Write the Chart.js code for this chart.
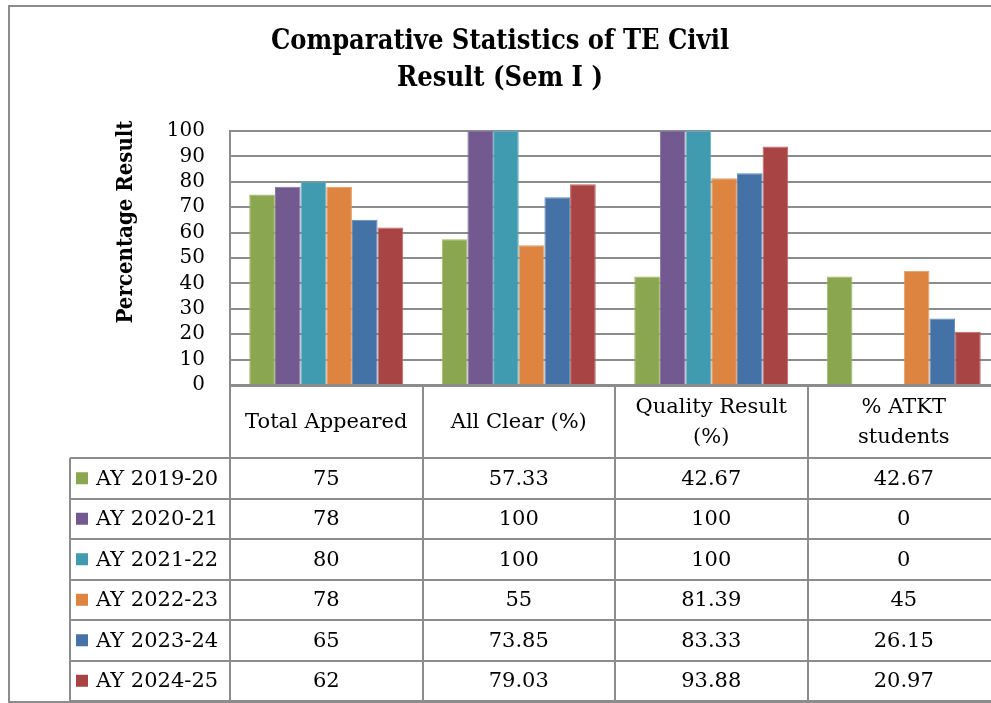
<!DOCTYPE html>
<html>
<head>
<meta charset="utf-8">
<script src="https://cdn.jsdelivr.net/npm/chart.js"></script>
<style>
  html, body { margin: 0; padding: 0; background: #fff; overflow: hidden; }
  #wrap { position: relative; width: 991px; height: 703px; overflow: hidden; }
  #frame { position: absolute; left: 8px; top: 5px; width: 1100px; height: 694px;
           border: 2px solid #8c8c8c; pointer-events: none; }
</style>
</head>
<body>
<div id="wrap">
  <canvas id="chart" width="1000" height="703" style="width:1000px;height:703px"></canvas>
  <div id="frame"></div>
</div>
<script>
// categories (table columns / x axis)
const categories = ['Total Appeared', 'All Clear (%)', ['Quality Result', '(%)'], ['% ATKT', 'students']];

// series = academic years
const years = ['AY 2019-20', 'AY 2020-21', 'AY 2021-22', 'AY 2022-23', 'AY 2023-24', 'AY 2024-25'];
const ay201920 = [75, 57.33, 42.67, 42.67];
const ay202021 = [78, 100, 100, 0];
const ay202122 = [80, 100, 100, 0];
const ay202223 = [78, 55, 81.39, 45];
const ay202324 = [65, 73.85, 83.33, 26.15];
const ay202425 = [62, 79.03, 93.88, 20.97];

const yTicks = [0, 10, 20, 30, 40, 50, 60, 70, 80, 90, 100];

const colors = ['#8aa64e', '#725a90', '#419bb0', '#dd8441', '#4472a6', '#a84544'];
const edges = ['#9cb865', '#8570a0', '#5eacbf', '#e69963', '#6088b6', '#ba6463'];

const SERIF = '"DejaVu Serif", serif';
const BOLD = '"DejaVu Serif Condensed", "DejaVu Serif", serif';
const GRID = '#8c8c8c';

const seriesValues = [ay201920, ay202021, ay202122, ay202223, ay202324, ay202425];

// draws the data table under the plot and the y axis title
const tablePlugin = {
  id: 'dataTable',
  afterDraw(chart) {
    const ctx = chart.ctx;
    const x = chart.scales.x;
    const area = chart.chartArea;
    const colW = (x.right - x.left) / categories.length;
    const headBottom = 458;
    const rowH = 40.5;
    const tableLeft = 70;
    const tableBottom = headBottom + rowH * years.length;

    ctx.save();
    ctx.strokeStyle = GRID;
    ctx.lineWidth = 2;

    // vertical lines between columns
    for (let i = 0; i <= categories.length; i++) {
      const px = Math.round(x.left + colW * i);
      ctx.beginPath();
      ctx.moveTo(px, area.bottom);
      ctx.lineTo(px, tableBottom);
      ctx.stroke();
    }
    // left legend column
    ctx.beginPath();
    ctx.moveTo(tableLeft, headBottom);
    ctx.lineTo(tableLeft, tableBottom);
    ctx.stroke();
    // row lines
    for (let r = 0; r <= years.length; r++) {
      const py = Math.round(headBottom + rowH * r);
      ctx.beginPath();
      ctx.moveTo(tableLeft, py);
      ctx.lineTo(x.right + 20, py);
      ctx.stroke();
    }

    ctx.font = '21px ' + SERIF;
    ctx.textBaseline = 'middle';
    ctx.fillStyle = '#000';
    chart.data.datasets.forEach((ds, r) => {
      const cy = headBottom + rowH * r + rowH / 2;
      ctx.fillStyle = ds.backgroundColor;
      ctx.fillRect(76, cy - 6, 12, 12);
      ctx.fillStyle = '#000';
      ctx.textAlign = 'left';
      ctx.fillText(ds.label, 96, cy + 1);
      ctx.textAlign = 'center';
      ds.data.forEach((v, c) => {
        ctx.fillText(String(v), x.getPixelForValue(c), cy + 1);
      });
    });

    // y axis title
    ctx.translate(126, 222);
    ctx.rotate(-Math.PI / 2);
    ctx.font = 'bold 22px ' + BOLD;
    ctx.textAlign = 'center';
    ctx.fillText('Percentage Result', 0, 0);
    ctx.restore();
  }
};

new Chart(document.getElementById('chart'), {
  type: 'bar',
  data: {
    labels: categories,
    datasets: years.map((label, i) => ({
      label: label,
      data: seriesValues[i],
      backgroundColor: colors[i],
      borderColor: edges[i],
      borderWidth: 1,
      borderSkipped: 'bottom',
      categoryPercentage: 0.8,
      barPercentage: 1.0
    }))
  },
  options: {
    responsive: false,
    animation: false,
    layout: { padding: { left: 0, right: 0, top: 0, bottom: 2 } },
    plugins: {
      legend: { display: false },
      tooltip: { enabled: false },
      title: {
        display: true,
        text: ['Comparative Statistics of TE Civil', 'Result (Sem I )'],
        color: '#000',
        font: { family: BOLD, size: 27, weight: 'bold', lineHeight: 1.35 },
        padding: { top: 24, bottom: 34 }
      }
    },
    scales: {
      x: {
        grid: { display: false, drawTicks: false },
        border: { display: true, color: GRID, width: 3 },
        ticks: {
          color: '#000',
          padding: 23,
          maxRotation: 0,
          autoSkip: false,
          crossAlign: 'center',
          font: { family: SERIF, size: 21, lineHeight: 1.4 }
        },
        afterFit(scale) { scale.height = 316; }
      },
      y: {
        min: 0,
        max: 100,
        afterBuildTicks(scale) { scale.ticks = yTicks.map(v => ({ value: v })); },
        grid: { color: GRID, lineWidth: 2, drawTicks: false },
        border: { display: true, color: GRID, width: 2 },
        ticks: {
          color: '#000',
          padding: 25,
          autoSkip: false,
          font: { family: SERIF, size: 20 }
        },
        afterFit(scale) { scale.width = 230; }
      }
    }
  },
  plugins: [tablePlugin]
});
</script>
</body>
</html>
